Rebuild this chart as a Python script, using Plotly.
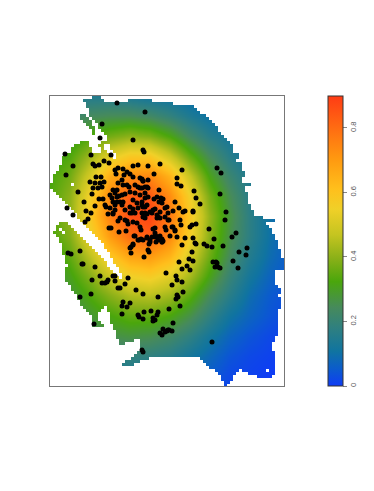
import numpy as np
import plotly.graph_objects as go

# axis units: horizontal / vertical position
GRID_X = [50, 70, 90, 110, 130, 150, 170, 190, 210, 230, 250, 270, 290]
GRID_Y = [96, 116, 136, 156, 176, 196, 216, 236, 256, 276, 296, 316, 336, 356, 376, 396]
VALUES = [
    [.13, .14, .15, .15, .13, .11, .10, .08, .06, .05, .04, .03, .02],
    [.19, .21, .24, .25, .25, .23, .19, .14, .10, .08, .06, .04, .03],
    [.25, .28, .33, .37, .40, .38, .32, .23, .16, .12, .08, .06, .04],
    [.29, .33, .42, .52, .58, .58, .48, .35, .24, .16, .11, .08, .05],
    [.32, .37, .50, .66, .73, .74, .64, .47, .31, .21, .14, .09, .06],
    [.33, .40, .56, .74, .83, .84, .73, .55, .37, .25, .16, .10, .06],
    [.33, .41, .58, .76, .86, .88, .77, .58, .40, .27, .17, .10, .06],
    [.32, .39, .54, .70, .80, .83, .74, .56, .39, .26, .17, .10, .06],
    [.29, .35, .46, .59, .68, .70, .64, .50, .36, .24, .15, .09, .05],
    [.26, .31, .39, .48, .55, .57, .52, .43, .31, .20, .12, .07, .04],
    [.22, .27, .33, .39, .44, .45, .42, .34, .24, .16, .09, .05, .03],
    [.19, .23, .28, .32, .35, .35, .32, .26, .18, .11, .07, .04, .02],
    [.15, .19, .23, .26, .27, .26, .23, .18, .12, .07, .04, .02, .01],
    [.11, .14, .17, .19, .19, .18, .16, .12, .08, .04, .02, .01, .00],
    [.08, .10, .12, .13, .13, .12, .10, .08, .05, .02, .01, .00, .00],
    [.06, .08, .09, .10, .10, .09, .08, .06, .03, .01, .00, .00, .00],
]

# land extent per grid row: (from, to) stretches that carry data
LAND = {
    97: [(93, 100)], 100: [(83, 92), (93, 102), (128, 150)], 103: [(87, 172)], 106: [(87, 192)],
    109: [(88, 197)], 112: [(88, 200)], 115: [(80, 85), (90, 204)], 118: [(81, 87), (93, 208)],
    121: [(84, 90), (95, 211)], 124: [(86, 92), (97, 214)], 127: [(89, 94), (99, 216)],
    130: [(91, 95), (101, 218)], 133: [(93, 95), (104, 221)], 136: [(106, 224)], 139: [(107, 227)],
    142: [(80, 87), (102, 105), (108, 229)], 145: [(73, 89), (99, 103), (110, 231)],
    148: [(72, 90), (100, 104), (110, 232)], 151: [(70, 90), (100, 106), (113, 232)],
    154: [(66, 108), (115, 238)], 157: [(63, 112), (116, 238)], 160: [(63, 236)], 163: [(62, 240)],
    166: [(60, 240)], 169: [(58, 241)], 172: [(56, 243)], 175: [(54, 64), (67, 243)],
    178: [(54, 66), (69, 241)], 181: [(52, 69), (71, 240)], 184: [(50, 71), (74, 250)],
    187: [(50, 73), (75, 244)], 190: [(53, 245)], 193: [(56, 246)], 196: [(58, 247)], 199: [(61, 248)],
    202: [(64, 248)], 205: [(67, 249)], 208: [(70, 250)], 211: [(73, 253)], 214: [(76, 254)],
    217: [(78, 262)], 220: [(81, 275)], 223: [(58, 66), (84, 266)], 226: [(57, 58), (60, 70), (87, 268)],
    229: [(55, 59), (62, 73), (90, 270)], 232: [(54, 61), (64, 76), (92, 272)],
    235: [(55, 63), (65, 80), (95, 274)], 238: [(58, 83), (98, 275)], 241: [(60, 86), (100, 276)],
    244: [(61, 89), (103, 277)], 247: [(62, 92), (105, 278)], 250: [(63, 95), (107, 279)],
    253: [(63, 97), (109, 280)], 256: [(64, 100), (111, 281)], 259: [(64, 102), (112, 282)],
    262: [(64, 105), (114, 283)], 265: [(67, 107), (116, 283)], 268: [(64, 110), (118, 282)],
    271: [(64, 112), (120, 274)], 274: [(65, 115), (121, 273)], 277: [(66, 118), (123, 273)],
    280: [(66, 273)], 283: [(68, 273)], 286: [(70, 276)], 289: [(72, 279)], 292: [(74, 280)],
    295: [(76, 278)], 298: [(78, 279)], 301: [(79, 280)], 304: [(80, 280)],
    307: [(82, 103), (108, 279)], 310: [(85, 100), (108, 278)], 313: [(88, 98), (109, 278)],
    316: [(91, 97), (110, 278)], 319: [(93, 98), (110, 278)], 322: [(93, 101), (111, 277)],
    325: [(93, 103), (112, 277)], 328: [(114, 277)], 331: [(115, 276)], 334: [(116, 276)],
    337: [(117, 275)], 340: [(118, 133), (139, 275)], 343: [(120, 125), (140, 270)], 346: [(140, 270)],
    349: [(140, 272)], 352: [(137, 275)], 355: [(134, 275)], 358: [(130, 148), (200, 273)],
    361: [(125, 140), (203, 273)], 364: [(122, 132), (207, 273)], 367: [(210, 273)],
    370: [(214, 238), (242, 266), (268, 273)], 373: [(218, 235), (248, 273)],
    376: [(221, 233), (258, 270)], 379: [(222, 231)], 382: [(224, 229)], 385: [(225, 227)],
}

POINT_X = [117, 145, 102, 100, 133, 143, 144, 65, 91, 111, 73, 93, 95, 99, 104, 109, 66, 78, 90, 96, 101, 95, 100, 104,
           93, 98, 102, 92, 84, 99, 103, 95, 86, 91, 67, 73, 88, 85, 109, 68, 71, 80, 131, 131, 119, 126, 105, 106, 108, 113,
           118, 115, 116, 123, 124, 133, 138, 127, 130, 133, 142, 143, 148, 122, 123, 127, 129, 135, 138, 142, 147,
           118, 117, 113, 115, 110, 112, 117, 119, 122, 125, 130, 135, 140, 145, 148, 113, 117, 120, 123, 115, 122,
           133, 137, 142, 147, 130, 115, 113, 132, 145,
           160, 148, 182, 154, 177, 140, 143, 177, 181, 145, 148, 140, 159, 194, 196, 200, 145, 157, 161, 163, 154, 159, 162,
           167, 165, 175, 179, 173, 183, 185, 193, 155, 160, 168, 150, 142, 145,
           217, 221, 220, 226, 225, 209, 236, 232, 180, 181, 173, 175, 177, 170, 185, 193, 214, 190, 192, 196, 165, 168, 193,
           195, 196, 182, 204, 207, 212, 223, 192, 189, 193, 179, 213, 216, 233, 239, 163, 162, 247, 246, 217, 215, 218, 220,
           238, 187, 182, 190, 166, 176, 177, 182, 172, 183, 177, 178, 176, 180, 169, 173, 163, 167, 169, 172, 162, 160, 212,
           82, 83, 95, 92, 100, 102, 105, 107, 108, 113, 115, 115, 128, 125, 118, 120, 136, 143, 158, 80, 91, 123, 130, 122,
           127, 122, 94, 138, 139, 144, 143, 151, 157, 158, 153, 155, 153, 165, 168, 142, 143, 130, 133, 138, 144, 148, 149,
           134, 143, 147, 150, 155, 160, 150, 156, 162, 111, 118, 120, 125, 127, 128, 133, 137, 140, 141, 135, 133, 139, 141,
           147, 152, 156, 149, 158, 162, 110, 125, 130, 135, 133, 138, 143, 142, 143, 147, 152, 153, 157, 158, 160, 157, 145,
           153, 155, 165, 166, 155, 169, 172, 175]
POINT_Y = [103, 112, 124, 138, 140, 150, 152, 154, 155, 155, 166, 164, 166, 165, 161, 163, 175, 192, 182, 177, 177, 183, 183, 182,
           188, 188, 187, 194, 202, 199, 199, 206, 211, 213, 208, 215, 219, 222, 228, 253, 254, 251, 253, 247, 232, 231, 205, 207, 214, 214,
           168, 170, 174, 169, 175, 166, 165, 172, 174, 177, 179, 181, 180, 180, 185, 185, 187, 185, 187, 188, 187,
           183, 190, 190, 193, 195, 198, 197, 196, 195, 194, 192, 193, 195, 193, 197, 202, 202, 202, 202, 205, 205,
           200, 203, 202, 205, 207, 210, 213, 213, 213,
           164, 166, 170, 174, 178, 178, 181, 184, 186, 187, 188, 188, 190, 191, 198, 204, 198, 197, 198, 199, 199, 202, 203,
           207, 208, 202, 208, 211, 212, 211, 211, 209, 212, 213, 212, 205, 207,
           168, 173, 194, 212, 220, 229, 233, 237, 220, 225, 227, 231, 237, 236, 238, 238, 239, 227, 225, 224, 217, 220, 212,
           243, 244, 245, 244, 246, 247, 246, 252, 259, 261, 262, 262, 262, 261, 252, 241, 242, 248, 255, 263, 267, 267, 268,
           268, 266, 269, 270, 273, 276, 280, 282, 285, 292, 295, 297, 299, 306, 309, 323, 329, 331, 330, 331, 335, 333, 342,
           264, 264, 267, 280, 276, 283, 283, 282, 280, 276, 276, 281, 278, 284, 288, 288, 290, 294, 297, 297, 294, 302, 303, 306,
           307, 314, 324, 315, 317, 312, 319, 311, 315, 312, 318, 320, 321, 332, 330, 350, 352, 248, 244, 240, 257, 250, 252,
           236, 240, 238, 240, 237, 236, 242, 242, 242, 228, 221, 218, 220, 221, 224, 222, 223, 227, 230, 236, 245, 240, 239,
           237, 237, 236, 244, 240, 239, 208, 210, 213, 213, 209, 208, 207, 213, 217, 214, 213, 210, 215, 217, 218, 218, 218,
           229, 228, 227, 230, 233, 220, 227, 230]

TICK_VALS = [0, 0.2, 0.4, 0.6, 0.8]
TICK_TEXT = ["0", "0.2", "0.4", "0.6", "0.8"]
SCALE_MIN, SCALE_MAX = 0, 0.899

COLORS = [
    [0.0, "#0f3cf5"], [0.06, "#0b5ccc"], [0.12, "#1074a0"], [0.2, "#2f8080"], [0.27, "#468a5c"],
    [0.36, "#4aa60c"], [0.44, "#8ab018"], [0.52, "#c4c420"], [0.61, "#f0d028"], [0.68, "#ffbf1c"],
    [0.78, "#ff9a10"], [0.89, "#ff6c12"], [1.0, "#ff3c14"],
]

MASK_X = np.arange(51.5, 284, 3)
MASK_Y = sorted(LAND)
mask = [[None if any(a <= x <= b + 1 for a, b in LAND[y]) else 1 for x in MASK_X] for y in MASK_Y]

fig = go.Figure()
fig.add_trace(go.Heatmap(
    x=GRID_X, y=GRID_Y, z=VALUES, zmin=SCALE_MIN, zmax=SCALE_MAX, zsmooth="best",
    colorscale=COLORS, hoverinfo="skip",
    colorbar=dict(
        x=(328 - 50) / 234, xanchor="left", xpad=0, y=0.5, yanchor="middle", ypad=0,
        len=1, lenmode="fraction", thickness=15, thicknessmode="pixels",
        outlinecolor="#333333", outlinewidth=1,
        tickmode="array", tickvals=TICK_VALS, ticktext=TICK_TEXT, ticks="outside",
        ticklen=4, tickwidth=1, tickcolor="#888888", tickangle=-90,
        tickfont=dict(family="Liberation Sans", size=7.5, color="#555555"),
    ),
))
fig.add_trace(go.Heatmap(
    x=MASK_X, y=MASK_Y, z=mask, zmin=0, zmax=1,
    colorscale=[[0, "#ffffff"], [1, "#ffffff"]], showscale=False, hoverinfo="skip",
))
fig.add_trace(go.Scatter(
    x=POINT_X, y=POINT_Y, mode="markers",
    marker=dict(color="#000000", size=5, line=dict(width=0)), hoverinfo="skip", showlegend=False,
))
axis = dict(showgrid=False, zeroline=False, showticklabels=False, ticks="", showline=True,
            linecolor="#777777", linewidth=1, mirror=True)
fig.update_xaxes(range=[50, 284], **axis)
fig.update_yaxes(range=[386, 96], **axis)
fig.update_layout(
    width=358, height=475, margin=dict(l=42, r=82, t=88, b=97, autoexpand=False),
    paper_bgcolor="#ffffff", plot_bgcolor="#ffffff", showlegend=False,
)
fig.write_html("out.html", config={"displayModeBar": False})
